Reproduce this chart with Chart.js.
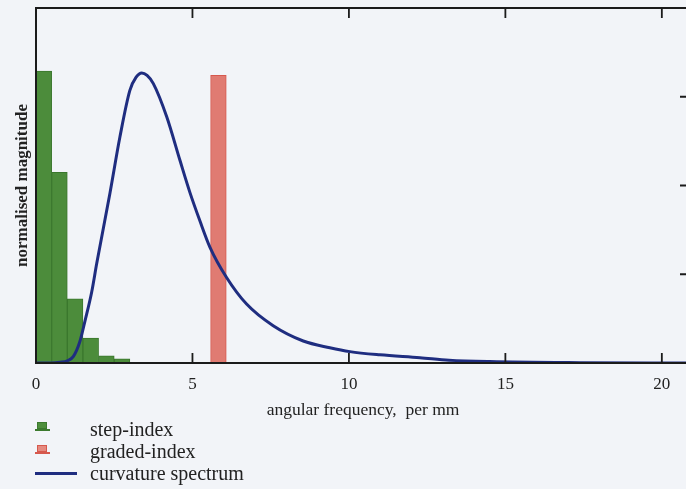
<!DOCTYPE html>
<html>
<head>
<meta charset="utf-8">
<script src="https://cdn.jsdelivr.net/npm/chart.js@4.4.1/dist/chart.umd.min.js"></script>
<style>
  html, body { margin:0; padding:0; width:686px; height:489px; overflow:hidden; background:#f2f4f8; }
  #wrap { position:absolute; left:0; top:0; width:700px; height:489px; }
  #legend { position:absolute; left:0; top:418px; font-family:"Liberation Serif","Times New Roman",serif; font-size:20px; color:#222; }
  .row { position:relative; height:22px; line-height:23px; white-space:nowrap; }
  .row .txt { position:absolute; left:90px; top:0; }
  .icon { position:absolute; left:35px; }
  .icon .top { position:absolute; left:2px; top:0; width:10px; height:7px; box-sizing:border-box; }
  .icon .base { position:absolute; left:0; top:7px; width:15px; height:2px; }
</style>
</head>
<body>
<div id="wrap"><canvas id="c" width="700" height="489"></canvas></div>
<div id="legend">
  <div class="row"><span class="icon" style="top:4px"><span class="top" style="background:#4e8f3c;border:1px solid #3c7a2e"></span><span class="base" style="background:#3c7a2e"></span></span><span class="txt">step-index</span></div>
  <div class="row"><span class="icon" style="top:5px"><span class="top" style="background:#e58a80;border:1.5px solid #d6584d"></span><span class="base" style="background:#d6584d"></span></span><span class="txt">graded-index</span></div>
  <div class="row"><span class="icon" style="top:10px;width:42px;height:3px;background:#1f2d80"></span><span class="txt">curvature spectrum</span></div>
</div>
<script>
// ---- data ----
const stepIndexCentres = [0.25, 0.75, 1.25, 1.75, 2.25, 2.75];
const stepIndexValues  = [0.822, 0.537, 0.181, 0.070, 0.020, 0.012];
const gradedIndexCentres = [5.83];
const gradedIndexValues  = [0.81];
const curveX = [0, 0.5, 0.77, 1.0, 1.19, 1.4, 1.57, 1.78, 1.94, 2.36, 2.68, 3.0, 3.2, 3.38, 3.55, 3.75, 4.18, 4.6, 4.92, 5.24, 5.56, 6.09, 6.73, 7.58, 8.54, 9.39, 10.03, 10.99, 12.27, 13.2, 14.5, 17.4, 20.9];
const curveY = [0, 0, 0.002, 0.006, 0.018, 0.06, 0.12, 0.2, 0.28, 0.477, 0.636, 0.768, 0.805, 0.817, 0.81, 0.787, 0.693, 0.571, 0.48, 0.40, 0.326, 0.241, 0.166, 0.105, 0.062, 0.043, 0.032, 0.023, 0.015, 0.008, 0.004, 0.001, 0];
const xTickValues = [0, 5, 10, 15, 20];
const yTickValues = [0.25, 0.5, 0.75];
const xMax = 20.9;

const pts = (xs, ys) => xs.map((x, i) => ({x: x, y: ys[i]}));

const frame = {
  id: 'frame',
  afterDatasetsDraw(chart) {
    const {ctx, chartArea: a, scales: {x, y}} = chart;
    ctx.save();
    ctx.strokeStyle = '#1b1b1b';
    ctx.lineWidth = 2;
    ctx.beginPath();
    ctx.moveTo(a.left, a.top); ctx.lineTo(a.right, a.top);
    ctx.lineTo(a.right, a.bottom); ctx.lineTo(a.left, a.bottom); ctx.closePath();
    ctx.stroke();
    ctx.lineWidth = 1.8;
    ctx.beginPath();
    xTickValues.forEach(v => {
      const px = x.getPixelForValue(v);
      if (v === 0) return;
      ctx.moveTo(px, a.bottom); ctx.lineTo(px, a.bottom - 10);
      ctx.moveTo(px, a.top); ctx.lineTo(px, a.top + 10);
    });
    yTickValues.forEach(v => {
      const py = y.getPixelForValue(v);
      ctx.moveTo(a.right, py); ctx.lineTo(a.right - 10, py);
    });
    ctx.stroke();
    ctx.restore();
  }
};

const serif = '"Liberation Serif","Times New Roman",serif';

new Chart(document.getElementById('c'), {
  type: 'bar',
  data: {
    datasets: [
      { type: 'line', label: 'curvature spectrum', data: pts(curveX, curveY),
        borderColor: '#1f2d80', borderWidth: 3, pointRadius: 0, fill: false,
        cubicInterpolationMode: 'monotone', order: 0 },
      { label: 'step-index', data: pts(stepIndexCentres, stepIndexValues),
        backgroundColor: '#4c8c3b', borderColor: '#3a772d', borderWidth: 1,
        grouped: false, barPercentage: 1, categoryPercentage: 1, order: 1 },
      { label: 'graded-index', data: pts(gradedIndexCentres, gradedIndexValues),
        backgroundColor: '#e07b72', borderColor: '#d6584d', borderWidth: 1,
        grouped: false, barPercentage: 1, categoryPercentage: 1, order: 1 }
    ]
  },
  options: {
    responsive: false,
    animation: false,
    events: [],
    layout: { padding: { left: 0, top: 8, right: 10, bottom: 64 } },
    plugins: { legend: { display: false }, tooltip: { enabled: false } },
    scales: {
      x: {
        type: 'linear', min: 0, max: xMax, offset: false,
        grid: { display: false, drawTicks: false },
        border: { display: false },
        afterBuildTicks: s => { s.ticks = xTickValues.map(v => ({value: v})); },
        afterFit: s => { s.height = 62; },
        ticks: { padding: 11, color: '#222', font: { family: serif, size: 17 }, maxRotation: 0 },
        title: { display: true, text: 'angular frequency,  per mm', color: '#222',
                 font: { family: serif, size: 17.5 }, padding: { top: 4, bottom: 4 } }
      },
      y: {
        min: 0, max: 1,
        grid: { display: false, drawTicks: false },
        border: { display: false },
        ticks: { display: false },
        afterFit: s => { s.width = 36; },
        title: { display: true, text: 'normalised magnitude', color: '#222',
                 font: { family: serif, size: 17, weight: 'bold' }, padding: { top: 12, bottom: 0 } }
      }
    }
  },
  plugins: [frame]
});
</script>
</body>
</html>
